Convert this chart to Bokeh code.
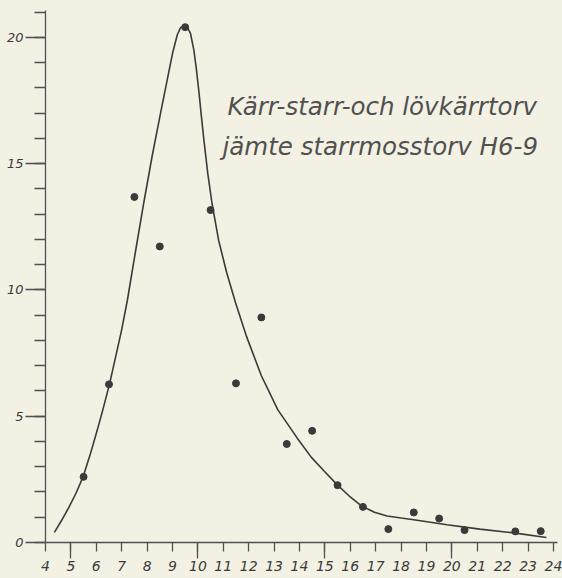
from bokeh.plotting import figure
from bokeh.models import Range1d, LinearAxis, FixedTicker, Label
from bokeh.embed import file_html
from bokeh.resources import INLINE

# ---- data ----
sample_x = [5.5, 6.5, 7.5, 8.5, 9.5, 10.5, 11.5, 12.5, 13.5, 14.5, 15.5, 16.5,
            17.5, 18.5, 19.5, 20.5, 22.5, 23.5]
sample_y = [2.6, 6.26, 13.68, 11.72, 20.4, 13.16, 6.3, 8.91, 3.9, 4.42, 2.27, 1.41,
            0.53, 1.19, 0.95, 0.49, 0.44, 0.45]

curve_x = [4.35, 4.62, 4.92, 5.2, 5.48, 5.75, 6.03, 6.27, 6.52, 6.75, 6.99, 7.22,
           7.54, 7.87, 8.2, 8.53, 8.70, 8.85, 9.01, 9.19, 9.32, 9.45, 9.58, 9.71,
           9.84, 9.94, 10.04, 10.13, 10.23, 10.39, 10.56, 10.82, 11.13, 11.48, 11.9,
           12.5, 13.15, 13.9, 14.47, 14.96, 15.5, 15.95, 16.44, 16.95, 17.45, 18.0,
           18.5, 19.81, 21.1, 22.44, 23.72]
curve_y = [0.4, 0.85, 1.39, 1.95, 2.6, 3.45, 4.42, 5.3, 6.27, 7.3, 8.38, 9.57,
           11.5, 13.45, 15.3, 17.0, 17.85, 18.6, 19.4, 20.1, 20.38, 20.46, 20.4, 20.15,
           19.5, 18.75, 17.85, 16.95, 16.0, 14.6, 13.4, 11.95, 10.7, 9.5, 8.2,
           6.6, 5.25, 4.15, 3.37, 2.84, 2.27, 1.85, 1.45, 1.2, 1.05, 0.97,
           0.9, 0.7, 0.53, 0.38, 0.2]

x_tick_values = list(range(4, 25))
x_long_ticks = [5, 10, 15, 20]
y_label_ticks = [0, 5, 10, 15, 20]
y_minor_ticks = list(range(0, 22))
title_lines = ["Kärr-starr-och lövkärrtorv", "jämte starrmosstorv H6-9"]

# ---- styling ----
bg = "#f3f1e3"
ink = "#3a3a3a"
axis_col = "#505050"
font = "DejaVu Sans"

p = figure(width=562, height=578, output_backend="svg", toolbar_location=None,
           x_range=Range1d(4, 24.16), y_range=Range1d(0, 21.06),
           x_axis_location=None, y_axis_location=None,
           min_border_left=45, min_border_right=5, min_border_top=10, min_border_bottom=36,
           background_fill_color=bg, border_fill_color=bg, outline_line_color=None)
for g in p.grid:
    g.visible = False

# x axis: line + ticks (long ticks at 5,10,15,20), labels not drawn
ax_ticks = LinearAxis(ticker=FixedTicker(ticks=x_long_ticks, minor_ticks=x_tick_values),
                      major_label_text_font_size="1px", major_label_text_color=None,
                      major_label_standoff=0,
                      major_tick_out=16, major_tick_in=0, minor_tick_out=9, minor_tick_in=0,
                      axis_line_color=axis_col, axis_line_width=1.3,
                      major_tick_line_color=axis_col, major_tick_line_width=1.3,
                      minor_tick_line_color=axis_col, minor_tick_line_width=1.3)
p.add_layout(ax_ticks, "below")

# x axis labels at every integer
ax_labels = LinearAxis(ticker=FixedTicker(ticks=x_tick_values),
                       axis_line_color=None, major_tick_line_color=None,
                       minor_tick_line_color=None, major_tick_out=0, major_tick_in=0,
                       minor_tick_out=0, minor_tick_in=0, major_label_standoff=2,
                       major_label_text_font=font, major_label_text_font_style="italic",
                       major_label_text_font_size="14px", major_label_text_color=ink)
p.add_layout(ax_labels, "below")

# y axis
ay = LinearAxis(ticker=FixedTicker(ticks=y_label_ticks, minor_ticks=y_minor_ticks),
                major_tick_out=20, major_tick_in=0, minor_tick_out=11, minor_tick_in=0,
                axis_line_color=axis_col, axis_line_width=1.3,
                major_tick_line_color=axis_col, major_tick_line_width=1.3,
                minor_tick_line_color=axis_col, minor_tick_line_width=1.3,
                major_label_standoff=2, major_label_text_font=font,
                major_label_text_font_style="italic", major_label_text_font_size="13px",
                major_label_text_color=ink)
p.add_layout(ay, "left")

p.line(curve_x, curve_y, line_color=ink, line_width=1.6)
p.scatter(sample_x, sample_y, size=7, fill_color=ink, line_color=ink)

for txt, tx, ty in zip(title_lines, [11.17, 10.97], [17.27, 15.69]):
    p.add_layout(Label(x=tx, y=ty, text=txt, text_font=font, text_font_style="italic",
                       text_font_size="24.5px", text_color="#505050",
                       text_baseline="alphabetic"))

html = file_html(p, INLINE)
html = html.replace("<body>", '<body style="background:%s">' % bg)
open("out.html", "w").write(html)
